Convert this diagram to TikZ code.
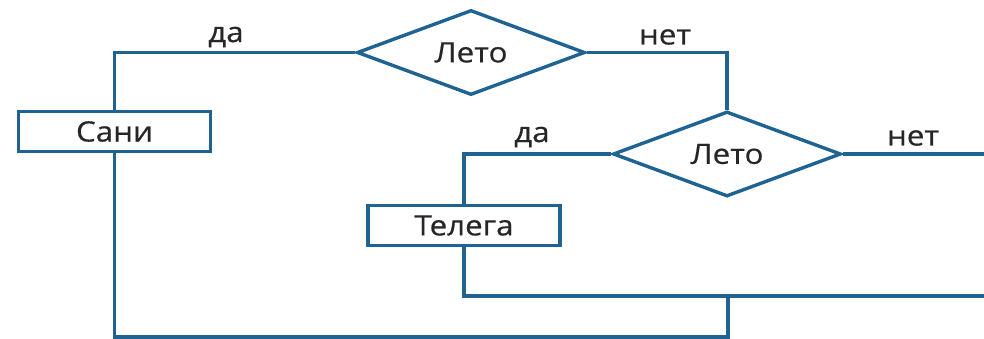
\documentclass[tikz,border=0pt]{standalone}
\usepackage{fontspec}
\setmainfont{Open Sans}[FakeStretch=1.12,FakeBold=0.5]
\usepackage{xcolor}
\usetikzlibrary{shapes.geometric}
\definecolor{flow}{HTML}{1F6392}
\definecolor{ink}{HTML}{262626}

\begin{document}
\begin{tikzpicture}[
  x=1pt,y=-1pt,
  font=\fontsize{28}{30}\selectfont,
  line/.style={draw=flow,line width=3.4pt},
  act/.style={line,rectangle,minimum width=192pt,minimum height=40pt,inner sep=0pt,text=ink},
  cond/.style={line,diamond,aspect=2.7,minimum width=228pt,minimum height=85pt,inner sep=0pt,text=ink},
  lbl/.style={text=ink,inner sep=0pt}
]
\useasboundingbox (0,0) rectangle (984,339);

% decisions
\node[cond] (leto1) at (471,52.5) {Лето};
\node[cond] (leto2) at (727,154) {Лето};

% actions
\node[act] (sani)  at (114.5,131.5) {Сани};
\node[act] (telega) at (464,225.5) {Телега};

% free ends at the right edge and the merge points
\coordinate (out1) at (984,154);
\coordinate (out2) at (984,296);
\coordinate (merge) at (728,296);
\coordinate (bottom) at (728,337);

\draw[line] (leto1.west) -| (sani.north);
\draw[line] (leto1.east) -| (leto2.north);
\draw[line] (leto2.west) -| (telega.north);
\draw[line] (leto2.east) -- (out1);
\draw[line] (telega.south) |- (out2);
\draw[line] (sani.south) |- (bottom) -- (merge);

% labels
\node[lbl] (yes1) at (226,37)  {да};
\node[lbl] (no1)  at (665,37)  {нет};
\node[lbl] (yes2) at (532,137) {да};
\node[lbl] (no2)  at (913,138) {нет};
\end{tikzpicture}
\end{document}
